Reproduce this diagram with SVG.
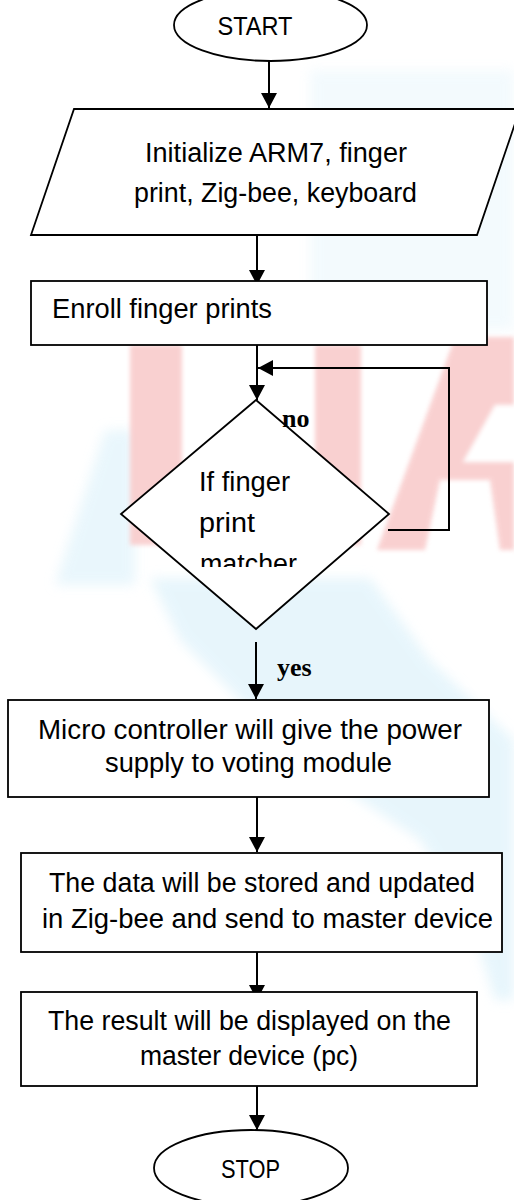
<svg xmlns="http://www.w3.org/2000/svg" width="514" height="1200" viewBox="0 0 514 1200">
  <defs>
    <style>
      .shape { fill: #ffffff; stroke: #000000; stroke-width: 1.8; }
      .conn { fill: none; stroke: #000000; stroke-width: 2; }
      .txt { font-family: "Liberation Sans", Arial, sans-serif; font-size: 27px; fill: #000000; }
      .term { font-family: "Liberation Sans", Arial, sans-serif; font-size: 25px; fill: #000000; }
      .lbl { font-family: "Liberation Serif", "Times New Roman", serif; font-size: 26px; font-weight: bold; fill: #000000; }
      .wmr { fill: #f9cccc; }
      .wmb { fill: #d8f0fa; }
    </style>
    <filter id="soft" x="-20%" y="-20%" width="140%" height="140%">
      <feGaussianBlur stdDeviation="6"/>
    </filter>
    <filter id="softR" x="-10%" y="-10%" width="120%" height="120%">
      <feGaussianBlur stdDeviation="2"/>
    </filter>
    <marker id="arrow" markerUnits="userSpaceOnUse" markerWidth="15" markerHeight="16" refX="15" refY="8" orient="auto">
      <path d="M0,0 L15,8 L0,16 Z" fill="#000000"/>
    </marker>
    <clipPath id="diamondClip">
      <rect x="120" y="440" width="270" height="127"/>
    </clipPath>
  </defs>

  <rect x="0" y="0" width="514" height="1200" fill="#ffffff"/>

  <g id="watermark">
    <path class="wmb" d="M310,70 L514,70 L514,330 L310,330 Z" opacity="0.3" filter="url(#soft)"/>
    <path class="wmb" d="M55,585 L105,430 L135,430 L135,585 Z" opacity="0.55" filter="url(#soft)"/>
    <path class="wmb" d="M150,578 L370,578 L430,660 L514,740 L514,1000 L495,1000 L470,920 L420,840 L330,780 L240,700 L180,640 Z" opacity="0.6" filter="url(#soft)"/>
    <g filter="url(#softR)" opacity="0.9">
      <rect class="wmr" x="130" y="345" width="52" height="200"/>
      <rect class="wmr" x="315" y="345" width="46" height="200"/>
      <path class="wmr" d="M377,550 L455,337 L514,337 L514,550 L500,550 L490,480 L440,480 L425,550 Z"/>
      <path d="M463,462 L495,405 L514,405 L514,462 Z" fill="#ffffff"/>
    </g>
  </g>

  <g id="connectors">
    <path class="conn" d="M269,61 V108" marker-end="url(#arrow)"/>
    <path class="conn" d="M257,235 V285" marker-end="url(#arrow)"/>
    <path class="conn" d="M257,345 V400" marker-end="url(#arrow)"/>
    <path class="conn" d="M388,530 H449 V368 H258" marker-end="url(#arrow)"/>
    <path class="conn" d="M256,642 V699" marker-end="url(#arrow)"/>
    <path class="conn" d="M257,797 V852" marker-end="url(#arrow)"/>
    <path class="conn" d="M257,945 V1000" marker-end="url(#arrow)"/>
    <path class="conn" d="M257,1086 V1130" marker-end="url(#arrow)"/>
  </g>

  <g id="start">
    <ellipse class="shape" cx="270.5" cy="25" rx="96.5" ry="36"/>
    <text class="term" x="255" y="35" text-anchor="middle" textLength="75" lengthAdjust="spacingAndGlyphs">START</text>
  </g>

  <g id="init">
    <polygon class="shape" points="74,109 520,109 477,235 31,235"/>
    <text class="txt" x="276" y="162" text-anchor="middle" textLength="262" lengthAdjust="spacingAndGlyphs">Initialize ARM7, finger</text>
    <text class="txt" x="275.5" y="202" text-anchor="middle" textLength="283" lengthAdjust="spacingAndGlyphs">print, Zig-bee, keyboard</text>
  </g>

  <g id="enroll">
    <rect class="shape" x="31" y="281" width="456" height="64"/>
    <text class="txt" x="52" y="318" textLength="220" lengthAdjust="spacingAndGlyphs">Enroll finger prints</text>
  </g>

  <g id="decision">
    <polygon class="shape" points="256,400 389,514 256,629 121,514"/>
    <text class="txt" x="199" y="491" textLength="91" lengthAdjust="spacingAndGlyphs">If finger</text>
    <text class="txt" x="199" y="532" textLength="56" lengthAdjust="spacingAndGlyphs">print</text>
    <text class="txt" x="200" y="573" textLength="97" lengthAdjust="spacingAndGlyphs" clip-path="url(#diamondClip)">matcher</text>
  </g>

  <g id="labels">
    <text class="lbl" x="282" y="427">no</text>
    <text class="lbl" x="277" y="676">yes</text>
  </g>

  <g id="power">
    <rect class="shape" x="8" y="700" width="481" height="97"/>
    <text class="txt" x="250" y="739" text-anchor="middle" textLength="424" lengthAdjust="spacingAndGlyphs">Micro controller will give the power</text>
    <text class="txt" x="248.5" y="772" text-anchor="middle" textLength="287" lengthAdjust="spacingAndGlyphs">supply to voting module</text>
  </g>

  <g id="store">
    <rect class="shape" x="21" y="853" width="481" height="99"/>
    <text class="txt" x="262" y="892" text-anchor="middle" textLength="426" lengthAdjust="spacingAndGlyphs">The data will be stored and updated</text>
    <text class="txt" x="267.5" y="928" text-anchor="middle" textLength="451" lengthAdjust="spacingAndGlyphs">in Zig-bee and send to master device</text>
  </g>

  <g id="result">
    <rect class="shape" x="21" y="992" width="456" height="94"/>
    <text class="txt" x="249.5" y="1030" text-anchor="middle" textLength="403" lengthAdjust="spacingAndGlyphs">The result will be displayed on the</text>
    <text class="txt" x="249" y="1065" text-anchor="middle" textLength="218" lengthAdjust="spacingAndGlyphs">master device (pc)</text>
  </g>

  <g id="stop">
    <ellipse class="shape" cx="251" cy="1168" rx="97" ry="38"/>
    <text class="term" x="250.5" y="1178" text-anchor="middle" textLength="59" lengthAdjust="spacingAndGlyphs">STOP</text>
  </g>
</svg>
